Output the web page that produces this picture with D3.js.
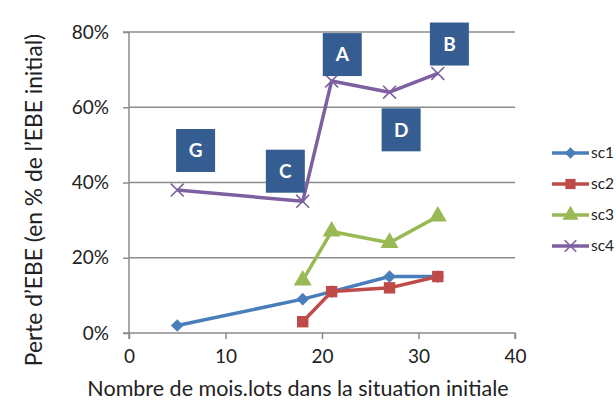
<!DOCTYPE html>
<html lang="fr">
<head>
<meta charset="utf-8">
<title>Perte d'EBE</title>
<script src="https://d3js.org/d3.v7.min.js"></script>
<style>
  body { margin: 0; background: #fff; }
  text { font-family: Lato, "Open Sans", sans-serif; fill: #222; }
</style>
</head>
<body>
<div id="chart"></div>
<script>
// data
const seriesNames = ["sc1", "sc2", "sc3", "sc4"];
const sc1 = [[5, 2], [18, 9], [21, 11], [27, 15], [32, 15]];
const sc2 = [[18, 3], [21, 11], [27, 12], [32, 15]];
const sc3 = [[18, 14], [21, 27], [27, 24], [32, 31]];
const sc4 = [[5, 38], [18, 35], [21, 67], [27, 64], [32, 69]];
const xTicks = [0, 10, 20, 30, 40];
const yTicks = [0, 20, 40, 60, 80];
// boxed labels, centre in data units
const boxLabels = ["G", "C", "A", "D", "B"];
const boxX = [6.9, 16.2, 22.1, 28.2, 33.2];
const boxY = [48.5, 43, 74, 54, 76.8];

const colors = ["#4A7EBB", "#BE4B48", "#98B954", "#7D60A0"];
// diamond = square turned 45deg
const symbols = [d3.symbolSquare, d3.symbolSquare, d3.symbolTriangle, d3.symbolX];
const symRot = [45, 0, 0, 0];
const symSize = [80, 130, 140, 110];

const W = 616, H = 403;
const margin = {top: 32, right: 101, bottom: 70, left: 129};
const width = W - margin.left - margin.right,
      height = H - margin.top - margin.bottom;

const svg = d3.select("#chart").append("svg")
    .attr("width", W).attr("height", H);
const g = svg.append("g")
    .attr("transform", `translate(${margin.left},${margin.top})`);

const x = d3.scaleLinear().domain([0, 40]).range([0, width]);
const y = d3.scaleLinear().domain([0, 80]).range([height, 0]);

// gridlines
g.append("g").selectAll("line")
  .data(yTicks.slice(1))
  .join("line")
    .attr("x1", 0).attr("x2", width)
    .attr("y1", d => y(d)).attr("y2", d => y(d))
    .attr("stroke", "#8c8c8c").attr("stroke-width", 1.5);

// axes
const xAxis = g.append("g")
  .attr("transform", `translate(0,${height})`)
  .call(d3.axisBottom(x).tickValues(xTicks).tickSize(6).tickPadding(11));
const yAxis = g.append("g")
  .call(d3.axisLeft(y).tickValues(yTicks).tickFormat(d => d + "%").tickSize(6).tickPadding(14));
[xAxis, yAxis].forEach(a => {
  a.selectAll("path, line").attr("stroke", "#8c8c8c").attr("stroke-width", 1.5);
  a.selectAll("text").style("font-size", "19px").attr("fill", "#222");
});
xAxis.select(".domain").attr("d", `M0,6V0H${width}V6`);
yAxis.select(".domain").attr("d", `M-6,0H0V${height}H-6`);

// series
const all = [sc1, sc2, sc3, sc4];
const line = d3.line().x(d => x(d[0])).y(d => y(d[1]));
all.forEach((s, i) => {
  g.append("path").datum(s)
    .attr("fill", "none").attr("stroke", colors[i]).attr("stroke-width", 3.5)
    .attr("stroke-linejoin", "round")
    .attr("d", line);
  g.append("g").selectAll("path")
    .data(s).join("path")
      .attr("transform", d => `translate(${x(d[0])},${y(d[1])}) rotate(${symRot[i]})`)
      .attr("d", d3.symbol().type(symbols[i]).size(symSize[i]))
      .attr("fill", i === 3 ? "none" : colors[i])
      .attr("stroke", colors[i]).attr("stroke-width", i === 3 ? 1.6 : 0);
});

// boxed labels
const bw = 39, bh = 43;
const boxes = g.append("g").selectAll("g")
  .data(boxLabels).join("g")
    .attr("transform", (d, i) => `translate(${x(boxX[i])},${y(boxY[i])})`);
boxes.append("rect")
  .attr("x", -bw / 2).attr("y", -bh / 2).attr("width", bw).attr("height", bh)
  .attr("fill", "#355D91");
boxes.append("text")
  .attr("text-anchor", "middle").attr("dy", "0.36em")
  .style("font-size", "19px").style("font-weight", "bold")
  .style("fill", "#fff")
  .text(d => d);

// legend
const legend = svg.append("g").attr("transform", "translate(552,153)");
seriesNames.forEach((n, i) => {
  const row = legend.append("g").attr("transform", `translate(0,${i * 31})`);
  row.append("line").attr("x1", 0).attr("x2", 37)
    .attr("stroke", colors[i]).attr("stroke-width", 3.5);
  row.append("path").attr("transform", `translate(18.5,0) rotate(${symRot[i]})`)
    .attr("d", d3.symbol().type(symbols[i]).size(symSize[i] * 0.8))
    .attr("fill", i === 3 ? "none" : colors[i])
    .attr("stroke", colors[i]).attr("stroke-width", i === 3 ? 1.6 : 0);
  row.append("text").attr("x", 39).attr("dy", "0.35em")
    .style("font-size", "15.5px").text(n);
});

// axis titles
svg.append("text")
  .attr("x", 298).attr("y", 396)
  .attr("text-anchor", "middle").style("font-size", "21.5px")
  .text("Nombre de mois.lots dans la situation initiale");
svg.append("text")
  .attr("transform", "translate(42,200) rotate(-90)")
  .attr("text-anchor", "middle").style("font-size", "22.8px")
  .text("Perte d\u2019EBE (en % de l\u2019EBE initial)");
</script>
</body>
</html>
